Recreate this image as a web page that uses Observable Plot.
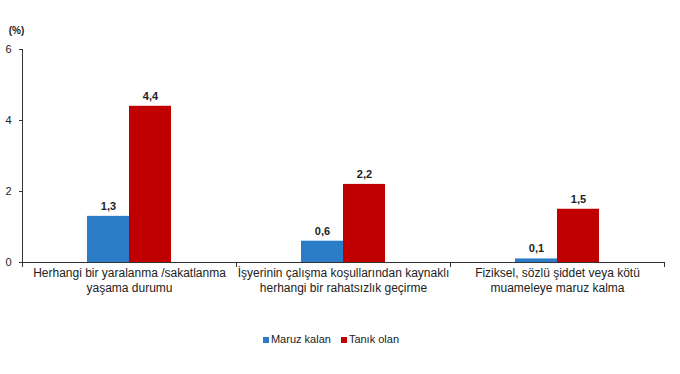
<!DOCTYPE html>
<html>
<head>
<meta charset="utf-8">
<script src="https://cdn.jsdelivr.net/npm/d3@7"></script>
<script src="https://cdn.jsdelivr.net/npm/@observablehq/plot@0.6"></script>
<style>
  body { margin: 0; background: #fff; font-family: "Liberation Sans", Arial, sans-serif; }
  #chart { width: 680px; }
  .legend { display: flex; justify-content: center; align-items: center; gap: 10px;
            font-size: 11px; color: #222; line-height: 14px; margin-top: 14px; padding-right: 18px; }
  .legend span.sw { display: inline-block; width: 6px; height: 6px; margin-right: 2px; }
</style>
</head>
<body>
<div id="chart"></div>
<script>
const categories = [
  "Herhangi bir yaralanma /sakatlanma\nyaşama durumu",
  "İşyerinin çalışma koşullarından kaynaklı\nherhangi bir rahatsızlık geçirme",
  "Fiziksel, sözlü şiddet veya kötü\nmuameleye maruz kalma"
];
const series = ["Maruz kalan", "Tanık olan"];
const maruzKalan = [1.3, 0.6, 0.1];
const tanikOlan = [4.4, 2.2, 1.5];
const yTicks = [0, 2, 4, 6];
const colors = ["#2B7CC6", "#C00000"];

const data = [];
categories.forEach((c, i) => {
  data.push({category: c, series: series[0], value: maruzKalan[i]});
  data.push({category: c, series: series[1], value: tanikOlan[i]});
});
const fmt = v => v.toFixed(1).replace(".", ",");

const H = 318, MT = 49, MB = 56;
const plot = Plot.plot({
  width: 680,
  height: H,
  marginLeft: 21,
  marginRight: 15,
  marginTop: MT,
  marginBottom: MB,
  style: {fontFamily: "'Liberation Sans', Arial, sans-serif", color: "#222", background: "#fff"},
  fx: {domain: categories, padding: 0, label: null},
  x: {domain: series, paddingInner: 0, paddingOuter: 1.5, axis: null},
  y: {domain: [0, 6], label: null},
  color: {domain: series, range: colors},
  marks: [
    Plot.barY(data, {fx: "category", x: "series", y: "value", fill: "series"}),
    Plot.text(data, {fx: "category", x: "series", y: "value", text: d => fmt(d.value),
      dy: -10, fontWeight: "bold", fontSize: 11, fill: "#222"}),
    Plot.ruleY([0], {stroke: "#333"}),
    Plot.frame({anchor: "left", stroke: "#333", fx: () => categories[0]}),
    Plot.frame({anchor: "left", stroke: "#333", insetTop: H - MT - MB, insetBottom: -4}),
    Plot.frame({anchor: "right", stroke: "#333", insetTop: H - MT - MB, insetBottom: -4, fx: () => categories[2]}),
    Plot.axisY({ticks: yTicks, tickFormat: d => String(d), tickSize: 3, tickPadding: 8, fontSize: 11, label: null, stroke: "#333"}),
    Plot.axisFx({anchor: "bottom", tickSize: 0, tickPadding: 5, fontSize: 12, lineHeight: 1.17, label: null}),
    Plot.text(["(%)"], {fx: () => categories[0], frameAnchor: "top-left", text: d => d,
      textAnchor: "middle", lineAnchor: "middle",
      dx: -6, dy: -19, fontWeight: "bold", fontSize: 10, fill: "#222"})
  ]
});
document.getElementById("chart").appendChild(plot);

const legend = document.createElement("div");
legend.className = "legend";
series.forEach((s, i) => {
  const item = document.createElement("div");
  item.innerHTML = `<span class="sw" style="background:${colors[i]}"></span>${s}`;
  legend.appendChild(item);
});
document.getElementById("chart").appendChild(legend);
</script>
</body>
</html>
